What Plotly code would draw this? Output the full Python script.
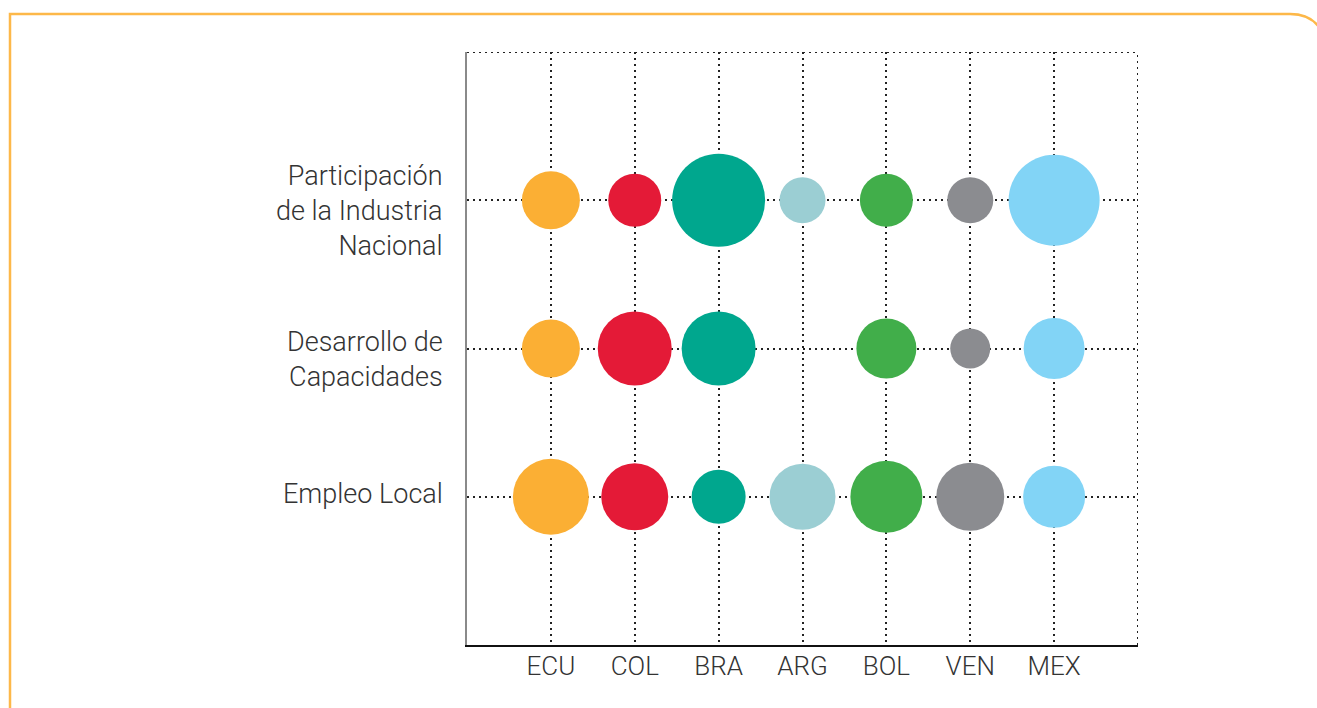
import plotly.graph_objects as go

countries = ["ECU", "COL", "BRA", "ARG", "BOL", "VEN", "MEX"]
colors = ["#FBAF34", "#E41A37", "#00A78E", "#9BCED3", "#41AE4A", "#8B8C90", "#82D4F6"]
rows = ["Empleo Local", "Desarrollo de<br>Capacidades", "Participación<br>de la Industria<br>Nacional"]

# bubble sizes (diameter in px) per row
empleo = [76, 67, 54, 66, 72, 68, 62]
desarrollo = [58, 74, 74, None, 60, 40, 61]
participacion = [58, 53, 93, 46, 53, 46, 91]
series = [empleo, desarrollo, participacion]

W, H = 1317, 708
L, R, T, B = 467, 1138, 52, 645

fig = go.Figure()
for ri, vals in enumerate(series):
    xs, ys, ss, cs = [], [], [], []
    for ci, v in enumerate(vals):
        if v is None:
            continue
        xs.append(ci)
        ys.append(ri)
        ss.append(v)
        cs.append(colors[ci])
    fig.add_trace(go.Scatter(
        x=xs, y=ys, mode="markers",
        marker=dict(size=ss, sizemode="diameter", color=cs, opacity=1, line=dict(width=0)),
        hoverinfo="skip", showlegend=False, cliponaxis=False,
    ))

def px(x):
    return (x - L) / (R - L)

def py(y):
    return (B - y) / (B - T)

# row labels as annotations (label block offset from its row, in px)
label_offsets = [-3, 11, 11]
annotations = []
for ri, lab in enumerate(rows):
    row_px = B - (ri + 1) * (B - T) / 4
    annotations.append(dict(
        text=lab, xref="paper", yref="paper", x=px(445), y=py(row_px + label_offsets[ri]),
        xanchor="right", yanchor="middle", align="right", showarrow=False,
        font=dict(size=27, color="#333333", weight=300),
    ))

frame_path = (f"M {px(10)},{py(720)} L {px(10)},{py(14)} L {px(1290)},{py(14)} "
              f"C {px(1305)},{py(14)} {px(1316)},{py(20)} {px(1322)},{py(32)}")

dotted = dict(color="#222222", width=2, dash="2px,4px")
fig.update_layout(
    width=W, height=H,
    margin=dict(l=L, r=W - R, t=T, b=H - B),
    paper_bgcolor="white", plot_bgcolor="white",
    font=dict(family="Roboto, 'DejaVu Sans', sans-serif", size=25, color="#333333", weight=300),
    xaxis=dict(
        range=[-1, 7], tickvals=list(range(len(countries))), ticktext=countries,
        showgrid=True, gridcolor="#222222", gridwidth=2, griddash="2px,4px",
        zeroline=False, showline=True, linecolor="#111111", linewidth=1.5,
        ticks="", ticklabelstandoff=-3, fixedrange=True,
        tickfont=dict(size=26),
    ),
    yaxis=dict(
        range=[-1, 3], tickvals=[0, 1, 2], showticklabels=False,
        showgrid=True, gridcolor="#222222", gridwidth=2, griddash="2px,4px",
        zeroline=False, showline=True, linecolor="#8a8a8a", linewidth=2,
        ticks="", fixedrange=True,
    ),
    annotations=annotations,
    shapes=[
        dict(type="line", xref="x", yref="y", x0=-1, x1=7, y0=3, y1=3, line=dotted, layer="below"),
        dict(type="line", xref="x", yref="y", x0=7, x1=7, y0=-1, y1=3, line=dotted, layer="below"),
        dict(type="path", xref="paper", yref="paper", path=frame_path,
             line=dict(color="#FDB849", width=2.5)),
    ],
)

fig.write_html("out.html", config={"displayModeBar": False},
               post_script="document.body.style.margin='0';document.body.style.overflow='hidden';")
